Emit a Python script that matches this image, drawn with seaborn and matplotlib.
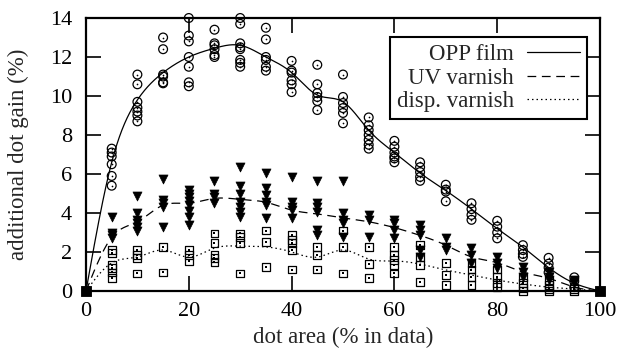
import numpy as np
import pandas as pd
import matplotlib
matplotlib.use("Agg")
import matplotlib.pyplot as plt
from matplotlib.lines import Line2D
import seaborn as sns

# ---------------- data ----------------
areas = [5, 10, 15, 20, 25, 30, 35, 40, 45, 50, 55, 60, 65, 70, 75, 80, 85, 90, 95]

opp_points = [
    [7.3, 7.1, 6.9, 6.5, 5.9, 5.4],
    [11.1, 10.6, 9.7, 9.4, 9.2, 9.0, 8.7],
    [13.0, 12.4, 11.1, 11.0, 10.7, 10.65],
    [14.0, 13.1, 12.8, 12.0, 11.5, 10.7, 10.5],
    [13.4, 12.7, 12.6, 12.4, 12.1, 12.0],
    [14.0, 13.7, 12.7, 12.5, 12.4, 11.85, 11.7, 11.5],
    [13.5, 12.9, 12.0, 11.85, 11.5, 11.3],
    [11.8, 11.3, 11.2, 10.8, 10.6, 10.2],
    [11.6, 10.6, 10.15, 9.95, 9.74, 9.28],
    [11.1, 9.95, 9.64, 9.38, 9.13, 8.6],
    [8.9, 8.5, 8.25, 8.0, 7.75, 7.5, 7.3],
    [7.7, 7.4, 7.1, 6.9, 6.8, 6.6],
    [6.6, 6.35, 6.1, 5.85, 5.65],
    [5.45, 5.2, 5.1, 4.6],
    [4.5, 4.2, 3.9, 3.65],
    [3.6, 3.3, 3.0, 2.7],
    [2.35, 2.1, 1.9, 1.75],
    [1.7, 1.4, 1.2, 0.95],
    [0.7, 0.5, 0.2],
]

uv_points = [
    [3.8, 3.0, 2.85, 2.7],
    [4.85, 4.0, 3.65, 3.5, 3.3, 3.1],
    [5.75, 4.65, 4.5, 4.3, 3.3],
    [5.2, 5.0, 4.8, 4.6, 4.4, 4.1, 3.8, 3.4],
    [5.65, 5.0, 4.8, 4.5],
    [6.35, 5.4, 5.0, 4.55, 4.3, 4.05, 3.8],
    [6.05, 5.3, 4.9, 4.55, 4.4, 3.75],
    [5.85, 4.55, 4.3, 4.15, 3.75],
    [5.65, 4.5, 4.3, 4.05, 3.15, 2.85],
    [5.65, 4.0, 3.65, 3.5, 2.75],
    [3.9, 3.65, 2.75],
    [3.65, 3.5, 3.15, 2.7],
    [3.4, 3.15, 2.85, 2.1, 1.75],
    [2.7, 2.25, 2.1],
    [2.2, 1.85, 1.45],
    [1.75, 1.45, 1.2],
    [1.25, 0.95, 0.7],
    [0.95, 0.7, 0.55],
    [0.55, 0.4],
]

disp_points = [
    [2.1, 1.95, 1.35, 1.2, 0.95, 0.65],
    [2.1, 1.85, 1.7, 0.9],
    [2.25, 0.95],
    [2.1, 1.85, 1.55],
    [2.95, 2.45, 1.85, 1.7, 1.5],
    [2.95, 2.75, 2.45, 0.9],
    [3.1, 2.5, 1.25],
    [2.85, 2.6, 2.45, 2.1, 1.1],
    [2.25, 1.85, 1.1],
    [3.1, 2.25, 0.9],
    [2.25, 1.4, 0.65],
    [2.25, 1.85, 1.6, 1.35, 0.9],
    [2.35, 1.75, 1.35, 0.45],
    [1.45, 0.8, 0.3],
    [1.45, 1.1, 0.7, 0.3],
    [1.1, 0.7, 0.4, 0.2],
    [0.7, 0.4, 0.15, 0.0],
    [0.55, 0.3, 0.1, 0.0],
    [0.1, 0.0],
]

end_x = [0, 100]
end_y = [0, 0]

# fitted curves (values at 0, 5, ..., 100)
fit_x = [0, 5, 10, 15, 20, 25, 30, 35, 40, 45, 50, 55, 60, 65, 70, 75, 80, 85, 90, 95, 100]
opp_fit = [0, 6.6, 9.8, 11.2, 12.0, 12.45, 12.6, 12.0, 11.2, 10.05, 9.7, 8.25, 7.1,
           6.05, 5.15, 4.2, 3.2, 2.25, 1.2, 0.4, 0]
uv_fit = [0, 2.75, 3.55, 4.4, 4.5, 4.75, 4.7, 4.55, 4.15, 3.95, 3.75, 3.55, 3.25,
          2.85, 2.35, 1.75, 1.45, 0.97, 0.65, 0.2, 0]
disp_fit = [0, 1.44, 1.74, 2.1, 1.74, 2.2, 2.3, 2.26, 2.0, 1.74, 2.1, 1.64, 1.54,
            1.38, 1.08, 0.82, 0.56, 0.36, 0.2, 0.1, 0]

labels = ["OPP film", "UV varnish", "disp. varnish"]
xticks = [0, 20, 40, 60, 80, 100]
yticks = [0, 2, 4, 6, 8, 10, 12, 14]


def to_frame(points):
    rows = [(a, v) for a, vals in zip(areas, points) for v in vals]
    return pd.DataFrame(rows, columns=["area", "gain"])


def natural_spline(x, y, xs):
    x = np.asarray(x, float)
    y = np.asarray(y, float)
    n = len(x)
    h = np.diff(x)
    A = np.zeros((n, n))
    b = np.zeros(n)
    A[0, 0] = A[-1, -1] = 1.0
    for i in range(1, n - 1):
        A[i, i - 1] = h[i - 1]
        A[i, i] = 2 * (h[i - 1] + h[i])
        A[i, i + 1] = h[i]
        b[i] = 6 * ((y[i + 1] - y[i]) / h[i] - (y[i] - y[i - 1]) / h[i - 1])
    M = np.linalg.solve(A, b)
    idx = np.clip(np.searchsorted(x, xs) - 1, 0, n - 2)
    x0, x1 = x[idx], x[idx + 1]
    hh = x1 - x0
    t0 = x1 - xs
    t1 = xs - x0
    return (M[idx] * t0 ** 3 / (6 * hh) + M[idx + 1] * t1 ** 3 / (6 * hh)
            + (y[idx] / hh - M[idx] * hh / 6) * t0
            + (y[idx + 1] / hh - M[idx + 1] * hh / 6) * t1)


sns.set_style("ticks")
plt.rcParams["font.family"] = ["Liberation Serif", "DejaVu Serif"]
plt.rcParams["mathtext.fontset"] = "stix"

fig = plt.figure(figsize=(6.34, 3.51), dpi=100)
ax = fig.add_axes([86 / 634, 1 - 291 / 351, 514 / 634, 273 / 351])

xs = np.linspace(0, 100, 801)
styles = ["-", (0, (7, 4.5)), (0, (1.2, 2.4))]
fits = [opp_fit, uv_fit, disp_fit]
for fit, ls in zip(fits, styles):
    sns.lineplot(x=xs, y=natural_spline(fit_x, fit, xs), color="black",
                 linewidth=0.9, linestyle=ls, ax=ax, zorder=3)

# scatter markers
df_opp = to_frame(opp_points)
df_uv = to_frame(uv_points)
df_disp = to_frame(disp_points)

sns.scatterplot(data=df_disp, x="area", y="gain", marker="s", s=32,
                facecolor="none", edgecolor="black", linewidth=0.9,
                ax=ax, zorder=4, clip_on=False)
sns.scatterplot(data=df_disp, x="area", y="gain", marker="s", s=1.5,
                color="black", linewidth=0, ax=ax, zorder=4, clip_on=False)
sns.scatterplot(data=df_uv, x="area", y="gain", marker="v", s=42,
                color="black", edgecolor="black", linewidth=0.5,
                ax=ax, zorder=4, clip_on=False)
sns.scatterplot(data=df_opp, x="area", y="gain", marker="o", s=40,
                facecolor="none", edgecolor="black", linewidth=0.9,
                ax=ax, zorder=4, clip_on=False)
sns.scatterplot(data=df_opp, x="area", y="gain", marker="o", s=1.5,
                color="black", linewidth=0, ax=ax, zorder=4, clip_on=False)
sns.scatterplot(x=end_x, y=end_y, marker="s", s=60, color="black",
                edgecolor="black", ax=ax, zorder=5, clip_on=False)

ax.set_xlim(0, 100)
ax.set_ylim(0, 14)
ax.set_xticks(xticks)
ax.set_yticks(yticks)
ax.set_xticklabels([str(t) for t in xticks])
ax.set_yticklabels([str(t) for t in yticks])
ax.tick_params(direction="in", length=10.5, width=1.2, top=True, right=True,
               labelsize=16, colors="black")
ax.tick_params(axis="x", pad=8)
ax.tick_params(axis="y", pad=10)
for sp in ax.spines.values():
    sp.set_linewidth(1.6)
    sp.set_color("black")
    sp.set_visible(True)

ax.set_xlabel("dot area (% in data)", fontsize=16.5, labelpad=4)
ax.set_ylabel("additional dot gain (%)", fontsize=16.5, labelpad=15)

handles = [Line2D([], [], color="black", linewidth=0.9, linestyle=ls) for ls in styles]
leg = ax.legend(handles, labels, loc="upper right",
                bbox_to_anchor=((587 - 86) / 514, (291 - 37) / 273),
                borderaxespad=0, markerfirst=False, fancybox=False,
                framealpha=1, edgecolor="black", fontsize=16.5,
                handlelength=2.3, handletextpad=0.6, labelspacing=0.12,
                borderpad=0.3)
leg.get_frame().set_linewidth(1.5)

fig.savefig("out.png", dpi=100)
